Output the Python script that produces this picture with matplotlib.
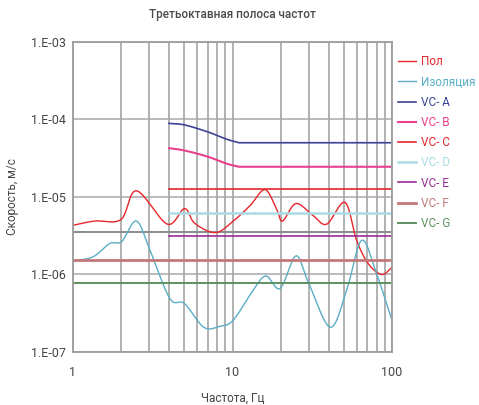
import numpy as np
import matplotlib
matplotlib.use("Agg")
import matplotlib.pyplot as plt
from matplotlib.ticker import FixedLocator, FuncFormatter, NullFormatter

# log10 of velocity (m/s) at given frequencies (Hz)
pol_f = [1, 1.37, 2.0, 2.5, 3.9, 5.0, 5.8, 7.8, 10, 12.9, 16, 19, 20.6, 25, 32, 39, 50.7, 60, 71, 86, 100]
pol_v = [-5.365, -5.31, -5.29, -4.92, -5.35, -5.15, -5.34, -5.46, -5.32, -5.11, -4.905,
         -5.17, -5.31, -5.085, -5.24, -5.35, -5.07, -5.56, -5.86, -6.0, -5.91]

iso_f = [1, 1.34, 1.7, 2.02, 2.5, 3.04, 4.05, 5.0, 6.6, 8.3, 10.1, 13.5, 16.2, 19.9, 25, 30, 41, 52, 64.5, 80, 100]
iso_v = [-5.83, -5.77, -5.60, -5.575, -5.31, -5.69, -6.31, -6.375, -6.68, -6.67, -6.59, -6.20,
         -6.02, -6.18, -5.76, -6.11, -6.68, -6.20, -5.56, -5.99, -6.59]

vca_f = [4, 5, 7, 9.2, 11, 100]
vca_v = [-4.05, -4.07, -4.16, -4.255, -4.30, -4.30]
vcb_f = [4, 5, 7, 9.2, 11, 100]
vcb_v = [-4.37, -4.40, -4.48, -4.57, -4.61, -4.61]

vc_c = 1.25e-5
vc_d = 6.25e-6
vc_e = 3.12e-6
vc_f = 1.56e-6
vc_g = 7.8e-7
extra_line = 3.5e-6

labels = ["Пол", "Изоляция", "VC- A", "VC- B", "VC- C", "VC- D", "VC- E", "VC- F", "VC- G"]
colors = ["#e8262b", "#5aaec6", "#3b4496", "#e8408e", "#e3262a", "#a6dce2", "#9a2b96", "#c47878", "#5e9160"]


def smooth(fs, vs, n=40):
    # catmull-rom through the read points, in log-frequency space
    x = np.log10(fs)
    y = np.array(vs)
    px = np.concatenate([[2 * x[0] - x[1]], x, [2 * x[-1] - x[-2]]])
    py = np.concatenate([[2 * y[0] - y[1]], y, [2 * y[-1] - y[-2]]])
    xs, ys = [], []
    for i in range(1, len(px) - 2):
        t = np.linspace(0, 1, n, endpoint=False)
        for arr, out in ((px, xs), (py, ys)):
            p0, p1, p2, p3 = arr[i - 1], arr[i], arr[i + 1], arr[i + 2]
            out.extend(0.5 * (2 * p1 + (-p0 + p2) * t + (2 * p0 - 5 * p1 + 4 * p2 - p3) * t ** 2
                              + (-p0 + 3 * p1 - 3 * p2 + p3) * t ** 3))
    xs.append(x[-1])
    ys.append(y[-1])
    return 10 ** np.array(xs), 10 ** np.array(ys)


plt.rcParams['font.family'] = ['Roboto', 'DejaVu Sans']
fig = plt.figure(figsize=(4.79, 4.05), dpi=100)
ax = fig.add_axes([0.1524, 0.1309, 0.666, 0.7654])

ax.set_xscale("log")
ax.set_yscale("log")
ax.set_xlim(1, 100)
ax.set_ylim(1e-7, 1e-3)

ax.grid(True, which="both", axis="x", color="#9c9c9c", lw=1.1)
ax.grid(True, which="major", axis="y", color="#a8a8a8", lw=1.1)
ax.axhline(extra_line, color="#8a8a8a", lw=1.4)

x, y = smooth(pol_f, pol_v)
ax.plot(x, y, color=colors[0], lw=1.0, label=labels[0])
x, y = smooth(iso_f, iso_v)
ax.plot(x, y, color=colors[1], lw=1.0, label=labels[1])
x, y = smooth(vca_f[:-1], vca_v[:-1])
ax.plot(np.append(x, vca_f[-1]), np.append(y, 10 ** vca_v[-1]), color=colors[2], lw=1.2, label=labels[2])
x, y = smooth(vcb_f[:-1], vcb_v[:-1])
ax.plot(np.append(x, vcb_f[-1]), np.append(y, 10 ** vcb_v[-1]), color=colors[3], lw=1.5, label=labels[3])
ax.plot([4, 100], [vc_c, vc_c], color=colors[4], lw=1.2, label=labels[4])
ax.plot([4, 100], [vc_d, vc_d], color=colors[5], lw=1.8, label=labels[5])
ax.plot([4, 100], [vc_e, vc_e], color=colors[6], lw=1.2, label=labels[6])
ax.plot([1, 100], [vc_f, vc_f], color=colors[7], lw=2.0, label=labels[7])
ax.plot([1, 100], [vc_g, vc_g], color=colors[8], lw=1.4, label=labels[8])

ax.yaxis.set_major_locator(FixedLocator([1e-7, 1e-6, 1e-5, 1e-4, 1e-3]))
ax.yaxis.set_major_formatter(FuncFormatter(lambda v, p: "1.E-%02d" % round(-np.log10(v))))
ax.yaxis.set_minor_formatter(NullFormatter())
ax.xaxis.set_major_formatter(FuncFormatter(lambda v, p: "%g" % v))
ax.xaxis.set_minor_formatter(NullFormatter())
ax.tick_params(which="both", length=0, labelsize=9, colors="#444444", pad=5)
ax.tick_params(axis="x", pad=10)
for s in ax.spines.values():
    s.set_color("#9c9c9c")
    s.set_linewidth(1.3)

ax.set_title("Третьоктавная полоса частот", fontsize=8.5, color="#4a4a4a", pad=17,
             fontweight="medium")
ax.set_xlabel("Частота, Гц", fontsize=8.5, color="#444444", labelpad=9)
ax.set_ylabel("Скорость, м/с", fontsize=8.5, color="#444444", labelpad=9)

ax.legend(loc="upper left", bbox_to_anchor=(0.985, 0.991), frameon=False, fontsize=8.5,
          labelcolor="linecolor", handlelength=1.5, handletextpad=0.5, labelspacing=0.61,
          borderaxespad=0.5)

fig.savefig("out.png", dpi=100)
